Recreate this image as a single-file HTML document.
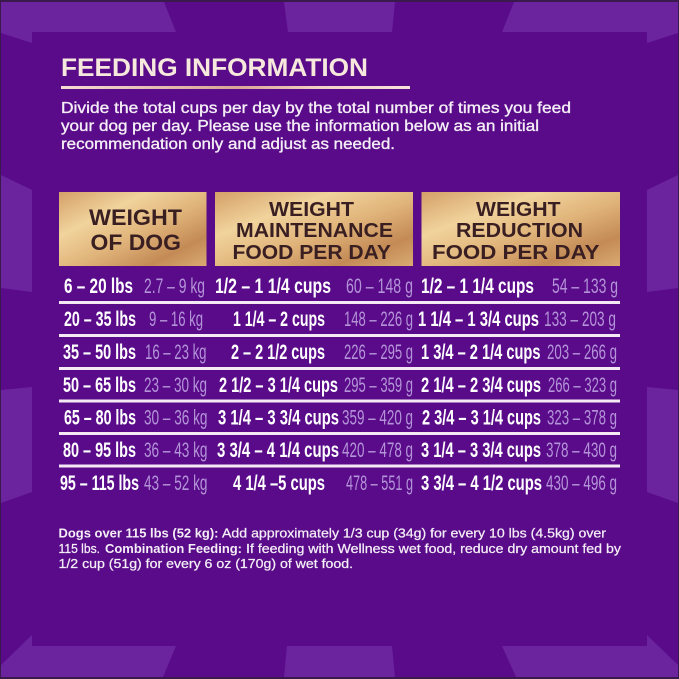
<!DOCTYPE html>
<html>
<head>
<meta charset="utf-8">
<style>
html,body{margin:0;padding:0;background:#5a0b8a;}
svg{display:block;}
</style>
</head>
<body>
<svg width="679" height="679" viewBox="0 0 679 679" xmlns="http://www.w3.org/2000/svg">
<defs>
<linearGradient id="gold" x1="0" y1="0" x2="1" y2="1">
<stop offset="0" stop-color="#d4a068"/>
<stop offset="0.3" stop-color="#f1d39c"/>
<stop offset="0.55" stop-color="#e0b47a"/>
<stop offset="0.8" stop-color="#c48a55"/>
<stop offset="1" stop-color="#d9aa72"/>
</linearGradient>
<linearGradient id="rule" x1="0" y1="0" x2="1" y2="0">
<stop offset="0" stop-color="#f4dcd4"/>
<stop offset="0.5" stop-color="#d9a597"/>
<stop offset="0.75" stop-color="#f2d3c6"/>
<stop offset="1" stop-color="#f6e2da"/>
</linearGradient>
</defs>
<rect x="0" y="0" width="679" height="679" fill="#3a1a4c"/>
<rect x="1" y="2" width="677" height="675" fill="#5a0b8a"/>
<g fill="#6b249d">
<polygon points="1,2 164,2 176,32 32,32 32,43 1,33"/>
<polygon points="284,2 395,2 392,32 288,32"/>
<polygon points="514,2 678,2 678,33 647,43 647,32 502,32"/>
<polygon points="1,175 32,190 32,292 1,288"/>
<polygon points="1,390 32,387 32,492 1,503"/>
<polygon points="678,175 647,190 647,292 678,288"/>
<polygon points="678,390 647,387 647,492 678,503"/>
<polygon points="1,665 32,635 32,646 176,646 163,677 1,677"/>
<polygon points="287,646 392,646 395,677 284,677"/>
<polygon points="502,646 647,646 647,635 678,665 678,677 516,677"/>
</g>

<text x="61" y="76" font-family="Liberation Sans, sans-serif" font-weight="bold" font-size="25" fill="#f6e8dc" textLength="307" lengthAdjust="spacingAndGlyphs">FEEDING INFORMATION</text>
<rect x="61" y="86" width="349" height="3" fill="url(#rule)"/>

<g font-family="Liberation Sans, sans-serif" font-size="15.5" fill="#f4eef6" stroke="#f4eef6" stroke-width="0.35">
<text x="61" y="113" textLength="510" lengthAdjust="spacingAndGlyphs">Divide the total cups per day by the total number of times you feed</text>
<text x="61" y="131" textLength="478" lengthAdjust="spacingAndGlyphs">your dog per day. Please use the information below as an initial</text>
<text x="61" y="149" textLength="334" lengthAdjust="spacingAndGlyphs">recommendation only and adjust as needed.</text>
</g>

<rect x="59" y="192" width="147.5" height="74" fill="url(#gold)"/>
<rect x="215" y="192" width="198" height="74" fill="url(#gold)"/>
<rect x="421.5" y="192" width="198.5" height="74" fill="url(#gold)"/>

<g font-family="Liberation Sans, sans-serif" font-weight="bold" fill="#3a1f22">
<text x="89" y="225" font-size="22" textLength="93" lengthAdjust="spacingAndGlyphs">WEIGHT</text>
<text x="90.5" y="250" font-size="22" textLength="90.5" lengthAdjust="spacingAndGlyphs">OF DOG</text>
<text x="269" y="216" font-size="20.5" textLength="85" lengthAdjust="spacingAndGlyphs">WEIGHT</text>
<text x="236" y="237" font-size="20.5" textLength="157" lengthAdjust="spacingAndGlyphs">MAINTENANCE</text>
<text x="232.5" y="259" font-size="20.5" textLength="158.5" lengthAdjust="spacingAndGlyphs">FOOD PER DAY</text>
<text x="476" y="216" font-size="20.5" textLength="84.5" lengthAdjust="spacingAndGlyphs">WEIGHT</text>
<text x="456" y="237" font-size="20.5" textLength="127" lengthAdjust="spacingAndGlyphs">REDUCTION</text>
<text x="432" y="259" font-size="20.5" textLength="167.5" lengthAdjust="spacingAndGlyphs">FOOD PER DAY</text>
</g>

<g fill="#f4e9f4">
<rect x="59" y="301" width="561" height="3"/>
<rect x="59" y="334" width="561" height="3"/>
<rect x="59" y="367" width="561" height="3"/>
<rect x="59" y="399.5" width="561" height="3"/>
<rect x="59" y="432" width="561" height="3"/>
<rect x="59" y="464.5" width="561" height="3"/>
</g>

<g font-family="Liberation Sans Narrow, Liberation Sans, sans-serif" font-weight="bold" font-size="21" fill="#ffffff">
<text x="64" y="293" textLength="69" lengthAdjust="spacingAndGlyphs">6 – 20 lbs</text>
<text x="215" y="293" textLength="116" lengthAdjust="spacingAndGlyphs">1/2 – 1 1/4 cups</text>
<text x="421" y="293" textLength="113" lengthAdjust="spacingAndGlyphs">1/2 – 1 1/4 cups</text>

<text x="64" y="326" textLength="72" lengthAdjust="spacingAndGlyphs">20 – 35 lbs</text>
<text x="233" y="326" textLength="92" lengthAdjust="spacingAndGlyphs">1 1/4 – 2 cups</text>
<text x="418" y="326" textLength="121" lengthAdjust="spacingAndGlyphs">1 1/4 – 1 3/4 cups</text>

<text x="63" y="359" textLength="73" lengthAdjust="spacingAndGlyphs">35 – 50 lbs</text>
<text x="231" y="359" textLength="94" lengthAdjust="spacingAndGlyphs">2 – 2 1/2 cups</text>
<text x="421" y="359" textLength="119.5" lengthAdjust="spacingAndGlyphs">1 3/4 – 2 1/4 cups</text>

<text x="63" y="392" textLength="73" lengthAdjust="spacingAndGlyphs">50 – 65 lbs</text>
<text x="219" y="392" textLength="119" lengthAdjust="spacingAndGlyphs">2 1/2 – 3 1/4 cups</text>
<text x="421" y="392" textLength="120" lengthAdjust="spacingAndGlyphs">2 1/4 – 2 3/4 cups</text>

<text x="64" y="424.5" textLength="72" lengthAdjust="spacingAndGlyphs">65 – 80 lbs</text>
<text x="218" y="424.5" textLength="121" lengthAdjust="spacingAndGlyphs">3 1/4 – 3 3/4 cups</text>
<text x="422" y="424.5" textLength="119" lengthAdjust="spacingAndGlyphs">2 3/4 – 3 1/4 cups</text>

<text x="63" y="457" textLength="73" lengthAdjust="spacingAndGlyphs">80 – 95 lbs</text>
<text x="217" y="457" textLength="122" lengthAdjust="spacingAndGlyphs">3 3/4 – 4 1/4 cups</text>
<text x="421" y="457" textLength="120" lengthAdjust="spacingAndGlyphs">3 1/4 – 3 3/4 cups</text>

<text x="60" y="490" textLength="79" lengthAdjust="spacingAndGlyphs">95 – 115 lbs</text>
<text x="233" y="490" textLength="92" lengthAdjust="spacingAndGlyphs">4 1/4 –5 cups</text>
<text x="421" y="490" textLength="121" lengthAdjust="spacingAndGlyphs">3 3/4 – 4 1/2 cups</text>
</g>

<g font-family="Liberation Sans Narrow, Liberation Sans, sans-serif" font-size="21" fill="#b494d8">
<text x="144" y="293" textLength="61" lengthAdjust="spacingAndGlyphs">2.7 – 9 kg</text>
<text x="346" y="293" textLength="67" lengthAdjust="spacingAndGlyphs">60 – 148 g</text>
<text x="552" y="293" textLength="66" lengthAdjust="spacingAndGlyphs">54 – 133 g</text>

<text x="149" y="326" textLength="54" lengthAdjust="spacingAndGlyphs">9 – 16 kg</text>
<text x="344" y="326" textLength="69" lengthAdjust="spacingAndGlyphs">148 – 226 g</text>
<text x="544" y="326" textLength="72" lengthAdjust="spacingAndGlyphs">133 – 203 g</text>

<text x="145" y="359" textLength="61.5" lengthAdjust="spacingAndGlyphs">16 – 23 kg</text>
<text x="344" y="359" textLength="69" lengthAdjust="spacingAndGlyphs">226 – 295 g</text>
<text x="547" y="359" textLength="70" lengthAdjust="spacingAndGlyphs">203 – 266 g</text>

<text x="144" y="392" textLength="63" lengthAdjust="spacingAndGlyphs">23 – 30 kg</text>
<text x="344" y="392" textLength="69" lengthAdjust="spacingAndGlyphs">295 – 359 g</text>
<text x="548" y="392" textLength="69" lengthAdjust="spacingAndGlyphs">266 – 323 g</text>

<text x="144" y="424.5" textLength="63.5" lengthAdjust="spacingAndGlyphs">30 – 36 kg</text>
<text x="342" y="424.5" textLength="71" lengthAdjust="spacingAndGlyphs">359 – 420 g</text>
<text x="547" y="424.5" textLength="70" lengthAdjust="spacingAndGlyphs">323 – 378 g</text>

<text x="144" y="457" textLength="63.5" lengthAdjust="spacingAndGlyphs">36 – 43 kg</text>
<text x="342" y="457" textLength="71" lengthAdjust="spacingAndGlyphs">420 – 478 g</text>
<text x="546" y="457" textLength="71" lengthAdjust="spacingAndGlyphs">378 – 430 g</text>

<text x="144" y="490" textLength="63.5" lengthAdjust="spacingAndGlyphs">43 – 52 kg</text>
<text x="346" y="490" textLength="67" lengthAdjust="spacingAndGlyphs">478 – 551 g</text>
<text x="546" y="490" textLength="71" lengthAdjust="spacingAndGlyphs">430 – 496 g</text>
</g>

<g font-family="Liberation Sans, sans-serif" font-size="13" fill="#f4eef6">
<text x="58.5" y="537.5" font-weight="bold" textLength="160" lengthAdjust="spacingAndGlyphs">Dogs over 115 lbs (52 kg):</text>
<text x="222" y="537.5" stroke="#f4eef6" stroke-width="0.25" textLength="384" lengthAdjust="spacingAndGlyphs">Add approximately 1/3 cup (34g) for every 10 lbs (4.5kg) over</text>
<text x="58.5" y="553" stroke="#f4eef6" stroke-width="0.25" textLength="41.5" lengthAdjust="spacingAndGlyphs">115 lbs.</text>
<text x="105" y="553" font-weight="bold" textLength="137" lengthAdjust="spacingAndGlyphs">Combination Feeding:</text>
<text x="246" y="553" stroke="#f4eef6" stroke-width="0.25" textLength="375" lengthAdjust="spacingAndGlyphs">If feeding with Wellness wet food, reduce dry amount fed by</text>
<text x="58.5" y="568" stroke="#f4eef6" stroke-width="0.25" textLength="294.5" lengthAdjust="spacingAndGlyphs">1/2 cup (51g) for every 6 oz (170g) of wet food.</text>
</g>
</svg>
</body>
</html>
